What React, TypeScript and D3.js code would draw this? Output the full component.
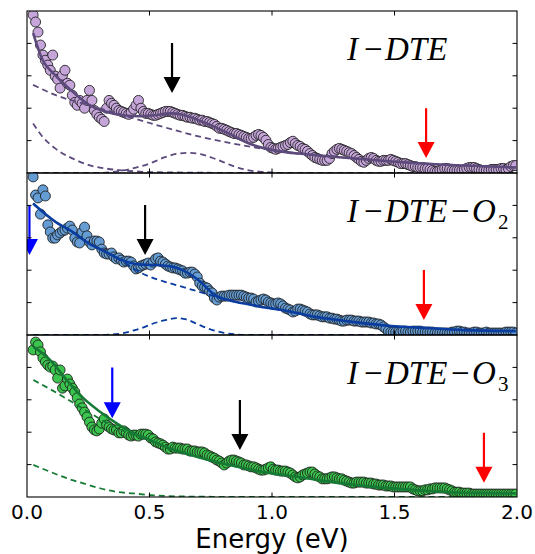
import React from 'react';
import * as d3 from 'd3';

// ---------- data ----------
const ENERGY_START = 0.025;
const ENERGY_STEP = 0.01;

const TOP_DATA = [
  4.88, 4.66, 4.35, 3.95, 3.64, 3.48, 3.33, 3.17, 3.64, 2.99,
  2.89, 2.62, 3.02, 3.17, 2.77, 2.71, 2.40, 2.18, 2.09, 2.24,
  2.15, 2.00, 2.24, 2.55, 2.24, 1.93, 1.81, 1.72, 1.66, 1.59,
  2.00, 2.24, 2.15, 2.09, 2.00, 1.93, 1.90, 1.87, 1.84, 1.81,
  1.87, 1.97, 2.09, 2.24, 2.00, 1.90, 1.84, 1.84, 1.81, 1.78,
  1.78, 1.81, 1.84, 1.87, 1.90, 1.90, 1.90, 1.87, 1.84, 1.81,
  1.78, 1.78, 1.75, 1.72, 1.72, 1.69, 1.69, 1.66, 1.63, 1.63,
  1.59, 1.59, 1.56, 1.53, 1.50, 1.44, 1.38, 1.38, 1.35, 1.32,
  1.28, 1.25, 1.22, 1.22, 1.19, 1.16, 1.13, 1.10, 1.07, 1.07,
  1.10, 1.16, 1.19, 1.16, 1.10, 1.01, 0.88, 0.79, 0.76, 0.73,
  0.76, 0.79, 0.82, 0.85, 0.88, 0.94, 0.98, 0.91, 0.85, 0.82,
  0.76, 0.73, 0.67, 0.60, 0.54, 0.48, 0.45, 0.42, 0.39, 0.39,
  0.39, 0.45, 0.60, 0.67, 0.73, 0.76, 0.73, 0.70, 0.67, 0.63,
  0.60, 0.54, 0.48, 0.42, 0.36, 0.33, 0.39, 0.45, 0.48, 0.45,
  0.39, 0.36, 0.36, 0.39, 0.39, 0.39, 0.42, 0.39, 0.36, 0.33,
  0.29, 0.29, 0.29, 0.26, 0.23, 0.20, 0.20, 0.17, 0.17, 0.17,
  0.14, 0.14, 0.11, 0.08, 0.05, 0.05, 0.08, 0.11, 0.14, 0.14,
  0.11, 0.08, 0.08, 0.08, 0.08, 0.08, 0.11, 0.14, 0.17, 0.17,
  0.17, 0.14, 0.11, 0.08, 0.08, 0.08, 0.08, 0.11, 0.11, 0.11,
  0.11, 0.14, 0.14, 0.11, 0.14, 0.20, 0.23, 0.23,
];

const MID_DATA = [
  4.88, 4.32, 4.23, 3.73, 4.48, 4.29, 3.40, 3.18, 2.99, 2.99,
  3.09, 3.15, 3.21, 3.24, 3.30, 3.36, 3.24, 2.99, 2.87, 2.84,
  3.18, 3.33, 3.06, 2.87, 2.78, 2.90, 2.90, 2.87, 2.65, 2.53,
  2.50, 2.50, 2.53, 2.41, 2.35, 2.38, 2.31, 2.25, 2.28, 2.28,
  2.25, 2.13, 2.04, 2.07, 2.13, 2.16, 2.19, 2.22, 2.16, 2.25,
  2.35, 2.38, 2.28, 2.25, 2.19, 2.13, 2.10, 2.07, 2.07, 2.04,
  2.01, 1.98, 1.91, 1.91, 1.94, 1.94, 1.88, 1.79, 1.60, 1.51,
  1.48, 1.45, 1.36, 1.30, 1.14, 1.08, 1.17, 1.20, 1.20, 1.20,
  1.23, 1.23, 1.23, 1.23, 1.23, 1.23, 1.20, 1.17, 1.14, 1.14,
  1.11, 1.02, 1.05, 1.08, 1.11, 1.08, 1.02, 0.99, 0.96, 0.96,
  0.99, 0.96, 0.90, 0.83, 0.80, 0.77, 0.71, 0.74, 0.80, 0.80,
  0.77, 0.74, 0.71, 0.65, 0.62, 0.62, 0.62, 0.59, 0.56, 0.56,
  0.56, 0.52, 0.52, 0.49, 0.49, 0.46, 0.43, 0.43, 0.46, 0.46,
  0.46, 0.43, 0.43, 0.43, 0.40, 0.40, 0.40, 0.40, 0.37, 0.37,
  0.34, 0.34, 0.31, 0.25, 0.19, 0.12, 0.09, 0.09, 0.09, 0.09,
  0.09, 0.12, 0.12, 0.09, 0.09, 0.12, 0.12, 0.12, 0.12, 0.09,
  0.09, 0.09, 0.09, 0.09, 0.06, 0.06, 0.06, 0.06, 0.06, 0.06,
  0.06, 0.09, 0.09, 0.12, 0.12, 0.09, 0.09, 0.06, 0.06, 0.06,
  0.09, 0.09, 0.06, 0.06, 0.06, 0.09, 0.06, 0.06, 0.06, 0.06,
  0.06, 0.06, 0.06, 0.09, 0.09, 0.09, 0.09, 0.06,
];

const BOT_DATA = [
  4.54, 4.78, 4.69, 4.48, 4.29, 4.17, 4.07, 4.01, 4.04, 3.92,
  3.67, 3.92, 3.36, 3.43, 3.64, 3.49, 3.36, 3.24, 3.06, 2.87,
  2.75, 2.62, 2.47, 2.31, 2.16, 2.07, 2.04, 2.10, 2.28, 2.41,
  2.22, 2.16, 2.10, 2.07, 2.07, 1.98, 1.98, 2.04, 1.98, 1.91,
  1.88, 1.91, 1.91, 1.88, 1.94, 1.94, 1.94, 1.91, 1.82, 1.79,
  1.70, 1.67, 1.64, 1.60, 1.54, 1.48, 1.48, 1.54, 1.51, 1.51,
  1.51, 1.48, 1.48, 1.48, 1.42, 1.42, 1.42, 1.39, 1.39, 1.39,
  1.36, 1.30, 1.27, 1.23, 1.20, 1.14, 1.11, 1.05, 0.99, 1.05,
  1.11, 1.14, 1.14, 1.11, 1.08, 1.05, 0.99, 0.99, 0.96, 0.93,
  0.93, 0.90, 0.86, 0.83, 0.83, 0.86, 0.90, 0.93, 0.86, 0.83,
  0.83, 0.80, 0.80, 0.80, 0.77, 0.74, 0.68, 0.62, 0.59, 0.62,
  0.68, 0.71, 0.74, 0.77, 0.77, 0.71, 0.65, 0.62, 0.56, 0.56,
  0.56, 0.59, 0.62, 0.62, 0.59, 0.56, 0.56, 0.52, 0.49, 0.46,
  0.43, 0.43, 0.46, 0.46, 0.46, 0.46, 0.43, 0.43, 0.43, 0.40,
  0.40, 0.37, 0.37, 0.37, 0.34, 0.34, 0.34, 0.31, 0.31, 0.31,
  0.31, 0.31, 0.31, 0.31, 0.31, 0.25, 0.22, 0.19, 0.19, 0.19,
  0.22, 0.22, 0.25, 0.25, 0.28, 0.28, 0.28, 0.28, 0.28, 0.25,
  0.22, 0.19, 0.15, 0.15, 0.15, 0.12, 0.12, 0.12, 0.12, 0.09,
  0.09, 0.09, 0.09, 0.09, 0.09, 0.09, 0.09, 0.09, 0.09, 0.09,
  0.09, 0.09, 0.09, 0.09, 0.09, 0.09, 0.09, 0.09,
];

// fit curves
const TOP_FIT_E = [0.025, 0.06, 0.115, 0.185, 0.25, 0.32, 0.39, 0.46, 0.52, 0.59, 0.635, 0.70, 0.77, 0.84, 0.90, 0.97, 1.04, 1.11, 1.18, 1.30, 1.40, 1.58, 1.79, 1.995];
const TOP_FIT_V = [4.32, 3.55, 3.02, 2.52, 2.12, 1.90, 1.78, 1.75, 1.78, 1.84, 1.80, 1.63, 1.41, 1.16, 0.93, 0.76, 0.66, 0.60, 0.55, 0.47, 0.41, 0.31, 0.23, 0.17];
const TOP_BG_E = [0.025, 0.115, 0.25, 0.39, 0.52, 0.60, 0.70, 0.84, 0.97, 1.04, 1.11, 1.18, 1.30, 1.40, 1.58, 1.79, 1.995];
const TOP_BG_V = [2.72, 2.41, 2.10, 1.79, 1.50, 1.33, 1.13, 0.91, 0.74, 0.66, 0.60, 0.55, 0.47, 0.41, 0.31, 0.23, 0.17];
const TOP_DRUDE_E = [0.025, 0.06, 0.115, 0.185, 0.25, 0.32, 0.39, 0.5, 0.7, 1.0, 2.0];
const TOP_DRUDE_V = [1.53, 1.15, 0.76, 0.45, 0.25, 0.14, 0.08, 0.03, 0.01, 0, 0];
const TOP_GAUSS_E = [0.025, 0.30, 0.36, 0.43, 0.50, 0.56, 0.62, 0.66, 0.72, 0.77, 0.84, 0.90, 0.97, 1.05, 2.0];
const TOP_GAUSS_V = [0, 0, 0.04, 0.14, 0.29, 0.48, 0.60, 0.62, 0.56, 0.43, 0.22, 0.09, 0.03, 0, 0];

const MID_FIT_E = [0.025, 0.115, 0.184, 0.252, 0.32, 0.388, 0.456, 0.524, 0.592, 0.632, 0.699, 0.767, 0.836, 0.903, 0.971, 1.04, 1.107, 1.176, 1.244, 1.38, 1.516, 1.652, 1.788, 1.995];
const MID_FIT_V = [4.06, 3.50, 3.19, 2.83, 2.57, 2.31, 2.18, 2.16, 2.11, 2.01, 1.70, 1.23, 1.05, 0.95, 0.85, 0.77, 0.67, 0.56, 0.49, 0.36, 0.26, 0.21, 0.15, 0.12];
const MID_BG_E = [0.025, 0.115, 0.184, 0.252, 0.32, 0.388, 0.47, 0.56, 0.632, 0.70, 0.767, 0.836, 0.903, 0.971, 1.04, 1.107, 1.176, 1.244, 1.38, 1.516, 1.652, 1.788, 1.995];
const MID_BG_V = [4.06, 3.50, 3.19, 2.83, 2.57, 2.28, 1.90, 1.65, 1.49, 1.34, 1.19, 1.05, 0.95, 0.85, 0.77, 0.67, 0.56, 0.49, 0.36, 0.26, 0.21, 0.15, 0.12];
const MID_GAUSS_E = [0.025, 0.30, 0.38, 0.43, 0.47, 0.51, 0.56, 0.61, 0.65, 0.70, 0.75, 0.80, 0.85, 0.90, 2.0];
const MID_GAUSS_V = [0, 0, 0.04, 0.13, 0.22, 0.34, 0.45, 0.52, 0.48, 0.32, 0.17, 0.07, 0.02, 0, 0];

const BOT_FIT_E = [0.026, 0.094, 0.162, 0.23, 0.298, 0.366, 0.434, 0.502, 0.57, 0.70, 0.836, 0.971, 1.107, 1.244, 1.516, 1.788, 1.995];
const BOT_FIT_V = [4.64, 4.23, 3.61, 3.05, 2.63, 2.27, 1.97, 1.76, 1.54, 1.23, 0.97, 0.76, 0.62, 0.46, 0.25, 0.13, 0.11];
const BOT_BG_E = [0.026, 0.115, 0.184, 0.252, 0.32, 0.388, 0.456, 0.52, 0.57, 0.70, 0.836, 0.971, 1.107, 1.244, 1.516, 1.788, 1.995];
const BOT_BG_V = [3.61, 3.24, 2.93, 2.62, 2.31, 2.06, 1.85, 1.70, 1.51, 1.22, 0.97, 0.76, 0.62, 0.46, 0.25, 0.13, 0.11];
const BOT_DRUDE_E = [0.026, 0.094, 0.162, 0.23, 0.298, 0.366, 0.434, 0.502, 0.57, 0.70, 1.0, 2.0];
const BOT_DRUDE_V = [0.99, 0.78, 0.58, 0.42, 0.27, 0.16, 0.11, 0.06, 0.03, 0.01, 0, 0];

// arrows: energy, start value, tip value, colour
const TOP_ARROW_E = [0.592, 1.629];
const TOP_ARROW_FROM = [4.01, 2.0];
const TOP_ARROW_TO = [2.47, 0.46];
const TOP_ARROW_COLOR = ['#000000', '#ff0000'];
const MID_ARROW_E = [0.01, 0.482, 1.62];
const MID_ARROW_FROM = [4.01, 4.01, 2.01];
const MID_ARROW_TO = [2.47, 2.47, 0.46];
const MID_ARROW_COLOR = ['#0000ff', '#000000', '#ff0000'];
const BOT_ARROW_E = [0.348, 0.869, 1.865];
const BOT_ARROW_FROM = [4.0, 2.99, 1.98];
const BOT_ARROW_TO = [2.43, 1.45, 0.44];
const BOT_ARROW_COLOR = ['#0000ff', '#000000', '#ff0000'];

const X_TICKS = [0, 0.5, 1.0, 1.5, 2.0];
const X_TICK_LABELS = ['0.0', '0.5', '1.0', '1.5', '2.0'];
const Y_TICKS = [1, 2, 3, 4];

// ---------- layout ----------
const W = 535;
const H = 554;
const X0 = 27;
const X1 = 517;
const PANEL_H = 162;
const PANEL_TOPS = [11, 173, 335];

const xScale = d3.scaleLinear().domain([0, 2]).range([X0, X1]);
const ENERGIES = d3.range(TOP_DATA.length).map((i) => ENERGY_START + ENERGY_STEP * i);

const zip = (a: number[], b: number[]) => a.map((v, i) => [v, b[i]] as [number, number]);

interface PanelSpec {
  data: number[];
  fill: string;
  line: string;
  fit: [number, number][];
  dashed: [number, number][][];
  arrowE: number[];
  arrowFrom: number[];
  arrowTo: number[];
  arrowColor: string[];
  sub: string | null;
}

const PANELS: PanelSpec[] = [
  {
    data: TOP_DATA,
    fill: '#c6a6da',
    line: '#5d4a7c',
    fit: zip(TOP_FIT_E, TOP_FIT_V),
    dashed: [zip(TOP_BG_E, TOP_BG_V), zip(TOP_DRUDE_E, TOP_DRUDE_V), zip(TOP_GAUSS_E, TOP_GAUSS_V)],
    arrowE: TOP_ARROW_E,
    arrowFrom: TOP_ARROW_FROM,
    arrowTo: TOP_ARROW_TO,
    arrowColor: TOP_ARROW_COLOR,
    sub: null,
  },
  {
    data: MID_DATA,
    fill: '#649cd3',
    line: '#0a3d9f',
    fit: zip(MID_FIT_E, MID_FIT_V),
    dashed: [zip(MID_BG_E, MID_BG_V), zip(MID_GAUSS_E, MID_GAUSS_V)],
    arrowE: MID_ARROW_E,
    arrowFrom: MID_ARROW_FROM,
    arrowTo: MID_ARROW_TO,
    arrowColor: MID_ARROW_COLOR,
    sub: '2',
  },
  {
    data: BOT_DATA,
    fill: '#3cc54e',
    line: '#157a33',
    fit: zip(BOT_FIT_E, BOT_FIT_V),
    dashed: [zip(BOT_BG_E, BOT_BG_V), zip(BOT_DRUDE_E, BOT_DRUDE_V)],
    arrowE: BOT_ARROW_E,
    arrowFrom: BOT_ARROW_FROM,
    arrowTo: BOT_ARROW_TO,
    arrowColor: BOT_ARROW_COLOR,
    sub: '3',
  },
];

function arrowPath(x: number, y1: number, y2: number) {
  const hl = 16;
  const hw = 8.5;
  const sw = 1.1;
  const yb = y2 - hl;
  return `M${x - sw},${y1}L${x + sw},${y1}L${x + sw},${yb}L${x + hw},${yb}L${x},${y2}L${x - hw},${yb}L${x - sw},${yb}Z`;
}

const SERIF = 'Liberation Serif, Times New Roman, serif';

function Panel({ spec, idx }: { spec: PanelSpec; idx: number }) {
  const top = PANEL_TOPS[idx];
  const yScale = d3.scaleLinear().domain([0, 5]).range([top + PANEL_H, top]);
  const line = d3
    .line<[number, number]>()
    .x((d) => xScale(d[0]))
    .y((d) => yScale(d[1]))
    .curve(d3.curveMonotoneX);
  const clipId = `clip-${idx}`;
  const ly = top + 49;
  return (
    <g>
      <defs>
        <clipPath id={clipId}>
          <rect x={X0} y={top} width={X1 - X0} height={PANEL_H} />
        </clipPath>
      </defs>
      <g clipPath={`url(#${clipId})`}>
        {spec.data.map((v, i) => (
          <circle
            key={i}
            cx={xScale(ENERGIES[i])}
            cy={yScale(v)}
            r={5}
            fill={spec.fill}
            stroke="#1a1a1a"
            strokeWidth={0.85}
          />
        ))}
        {spec.dashed.map((d, i) => (
          <path
            key={i}
            d={line(d) || ''}
            fill="none"
            stroke={spec.line}
            strokeWidth={1.8}
            strokeDasharray="6,4"
          />
        ))}
        <path d={line(spec.fit) || ''} fill="none" stroke={spec.line} strokeWidth={2.6} />
        {spec.arrowE.map((e, i) => (
          <path
            key={i}
            d={arrowPath(xScale(e), yScale(spec.arrowFrom[i]), yScale(spec.arrowTo[i]))}
            fill={spec.arrowColor[i]}
          />
        ))}
      </g>
      {Y_TICKS.map((t) => (
        <g key={`y${t}`}>
          <line x1={X0} x2={X0 + 4.5} y1={yScale(t)} y2={yScale(t)} stroke="#000" strokeWidth={1} />
          <line x1={X1 - 4.5} x2={X1} y1={yScale(t)} y2={yScale(t)} stroke="#000" strokeWidth={1} />
        </g>
      ))}
      {X_TICKS.slice(1, -1).map((t) => (
        <g key={`x${t}`}>
          <line x1={xScale(t)} x2={xScale(t)} y1={top} y2={top + 4.5} stroke="#000" strokeWidth={1} />
          <line x1={xScale(t)} x2={xScale(t)} y1={top + PANEL_H - 4.5} y2={top + PANEL_H} stroke="#000" strokeWidth={1} />
        </g>
      ))}
      <rect x={X0} y={top} width={X1 - X0} height={PANEL_H} fill="none" stroke="#000" strokeWidth={1.1} />
      <text x={347} y={ly} fontFamily={SERIF} fontSize={33} fill="#000">
        <tspan fontStyle="italic">I</tspan>
        <tspan x={364}>−</tspan>
        <tspan x={385} fontStyle="italic">DTE</tspan>
        {spec.sub && <tspan x={451}>−</tspan>}
        {spec.sub && (
          <tspan x={472} fontStyle="italic">
            O
          </tspan>
        )}
        {spec.sub && (
          <tspan x={498} dy={7} fontSize={21}>
            {spec.sub}
          </tspan>
        )}
      </text>
    </g>
  );
}

export default function App() {
  const bottom = PANEL_TOPS[2] + PANEL_H;
  return (
    <svg
      width={W}
      height={H}
      style={{ position: 'absolute', left: 0, top: 0, background: '#fff' }}
    >
      <rect x={0} y={0} width={W} height={H} fill="#fff" />
      {PANELS.map((p, i) => (
        <Panel key={i} spec={p} idx={i} />
      ))}
      {X_TICKS.map((t, i) => (
        <text
          key={t}
          x={xScale(t)}
          y={bottom + 21.5}
          textAnchor="middle"
          fontFamily="DejaVu Sans, sans-serif"
          fontSize={20}
          fill="#000"
        >
          {X_TICK_LABELS[i]}
        </text>
      ))}
      <text
        x={(X0 + X1) / 2}
        y={548}
        textAnchor="middle"
        fontFamily="DejaVu Sans, sans-serif"
        fontSize={26}
        fill="#000"
      >
        Energy (eV)
      </text>
    </svg>
  );
}
